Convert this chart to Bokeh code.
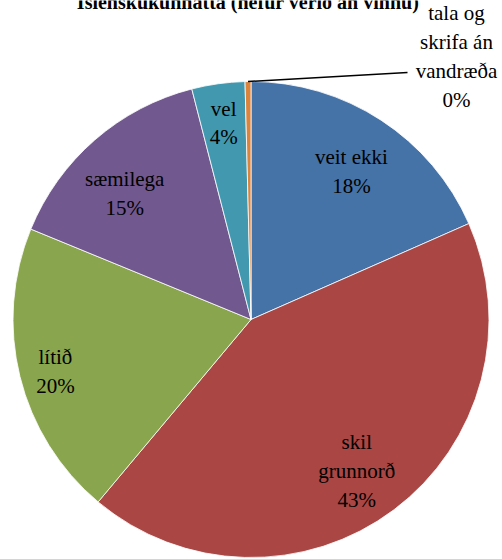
import math
from bokeh.plotting import figure
from bokeh.models import Range1d, ColumnDataSource
from bokeh.core.properties import value
from bokeh.embed import file_html
from bokeh.resources import INLINE

# ---- data ----
title_text = "Íslenskukunnátta  (hefur verið án vinnu)"
categories = ["veit ekki", "skil\ngrunnorð", "lítið", "sæmilega", "vel", "tala og\nskrifa án\nvandræða"]
shares = [18.4, 42.7, 20.1, 14.8, 3.6, 0.4]
colors = ["#4572A7", "#AA4643", "#89A54E", "#71588F", "#4198AF", "#DB843D"]

# ---- layout ----
W, H = 502, 559
cx, cy, R = 250.5, 240, 238
label_r = [0.752, 0.777, 0.85, 0.75, 0.834]
label_dang = [1.0, 2.0, -1.0, -4.0, 0.0]   # degrees
outside_label = (456, 503)
leader_end = (407, 487)
FONT = value("Liberation Serif")
FS = "21px"

p = figure(width=W, height=H, output_backend="svg", toolbar_location=None,
           x_range=Range1d(0, W), y_range=Range1d(0, H), min_border=0)
p.axis.visible = False
p.grid.visible = False
p.outline_line_color = None

total = sum(shares)
starts, ends, mids = [], [], []
cum = 0.0
for s in shares:
    a0 = cum / total * 2 * math.pi
    cum += s
    a1 = cum / total * 2 * math.pi
    starts.append(math.pi / 2 - a0)
    ends.append(math.pi / 2 - a1)
    mids.append((a0 + a1) / 2)

src = ColumnDataSource(dict(start=starts, end=ends, color=colors))
p.wedge(x=cx, y=cy, radius=R, start_angle="start", end_angle="end", direction="clock",
        fill_color="color", line_color="white", line_width=0.8, source=src)

pct = [f"{round(s / total * 100)}%" for s in shares]
lx, ly, lt = [], [], []
for i in range(5):
    th = mids[i] + math.radians(label_dang[i])
    r = R * label_r[i]
    lx.append(cx + r * math.sin(th))
    ly.append(cy + r * math.cos(th))
    lt.append(categories[i] + "\n" + pct[i])
p.text(x=lx, y=ly, text=lt, text_font=FONT, text_font_size=FS, text_color="black",
       text_align="center", text_baseline="middle", text_line_height=1.2)

# outside label for the tiny slice
th = mids[5]
ex, ey = cx + R * math.sin(th), cy + R * math.cos(th)
p.segment(x0=[ex], y0=[ey], x1=[leader_end[0]], y1=[leader_end[1]], line_color="black", line_width=1.5)
p.text(x=[outside_label[0]], y=[outside_label[1]], text=[categories[5] + "\n" + pct[5]],
       text_font=FONT, text_font_size=FS, text_color="black",
       text_align="center", text_baseline="middle", text_line_height=1.2)

# title (partly cut at the top, as in the original)
p.text(x=[250], y=[H - 1], text=[title_text], text_font=FONT, text_font_size="20px",
       text_font_style="bold", text_color="black", text_align="center", text_baseline="alphabetic")

open("out.html", "w").write(file_html(p, INLINE))
